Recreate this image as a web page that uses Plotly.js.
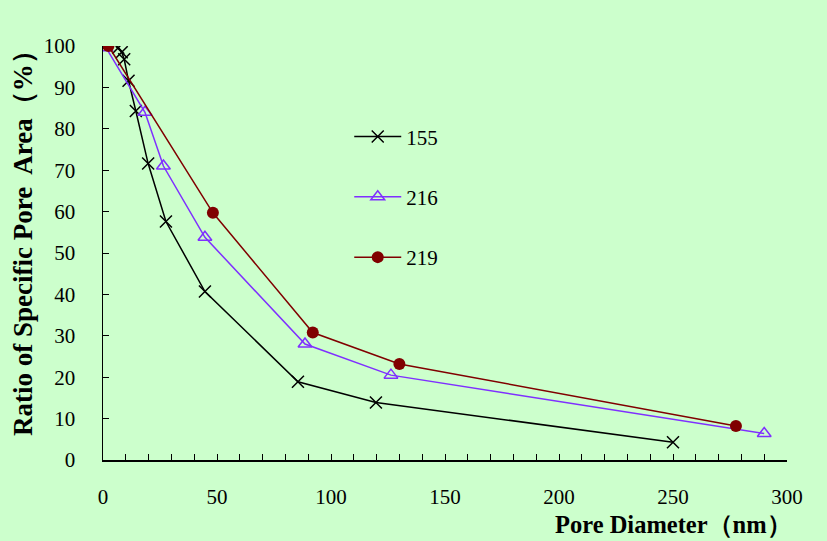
<!DOCTYPE html>
<html>
<head>
<meta charset="utf-8">
<script src="https://cdn.plot.ly/plotly-3.0.1.min.js"></script>
<style>html,body{margin:0;padding:0;background:#CCFFCC;}#chart{width:827px;height:541px;}</style>
</head>
<body>
<div id="chart"></div>
<script>
const x155 = [6.7, 8.2, 9.3, 11.2, 14.4, 19.8, 27.6, 44.7, 85.5, 119.7, 250];
const y155 = [99.6, 98.5, 96.8, 91.6, 84.3, 71.6, 57.6, 40.7, 18.9, 13.9, 4.3];
const x216 = [1.3, 18.4, 26.5, 44.7, 88.6, 126.3, 290];
const y216 = [99.6, 84.0, 71.0, 53.8, 28.0, 20.5, 6.4];
const x219 = [2.4, 48.2, 92.0, 130.0, 277.6];
const y219 = [100, 59.7, 30.8, 23.2, 8.2];
const names = ['155', '216', '219'];

const serif = '"Liberation Serif"';
const traces = [
  {x: x155, y: y155, name: names[0], legendgroup: 'a', mode: 'lines+markers', type: 'scatter',
   line: {color: '#000000', width: 1.5},
   marker: {symbol: 'x-thin-open', size: 12, color: '#000000', line: {color: '#000000', width: 1.5}}},
  {x: x216, y: y216, name: names[1], legendgroup: 'b', mode: 'lines+markers', type: 'scatter',
   line: {color: '#7F2FFF', width: 1.5},
   marker: {symbol: 'triangle-up-open', size: 12, color: '#7F2FFF', line: {color: '#7F2FFF', width: 1.5}}},
  {x: x219, y: y219, name: names[2], legendgroup: 'c', mode: 'lines+markers', type: 'scatter',
   line: {color: '#800000', width: 1.5},
   marker: {symbol: 'circle', size: 12, color: '#800000'}}
];

const layout = {
  width: 827, height: 541,
  paper_bgcolor: '#CCFFCC', plot_bgcolor: '#CCFFCC',
  margin: {l: 103, r: 40, t: 46, b: 81},
  font: {family: serif, size: 20, color: '#000000'},
  showlegend: true,
  legend: {x: 0.36, y: 0.83, xanchor: 'left', yanchor: 'top', bgcolor: 'rgba(0,0,0,0)',
           font: {family: serif, size: 21, color: '#000'}, tracegroupgap: 30, itemwidth: 47},
  xaxis: {range: [0, 300], dtick: 50, tick0: 0, ticks: 'inside', ticklen: 6, tickcolor: '#000',
          showline: true, linecolor: '#000', linewidth: 1.5, showgrid: false, zeroline: false,
          ticklabelstandoff: 17, tickfont: {family: serif, size: 21, color: '#000'},
          minor: {dtick: 10, ticks: 'inside', ticklen: 6, tickcolor: '#000', showgrid: false}},
  yaxis: {range: [0, 100], dtick: 10, tick0: 0, ticks: 'inside', ticklen: 6, tickcolor: '#000',
          showline: true, linecolor: '#000', linewidth: 1.5, showgrid: false, zeroline: false,
          ticklabelstandoff: 22, tickfont: {family: serif, size: 21, color: '#000'}},
  annotations: [
    {text: '<b>Pore Diameter（nm）</b>', xref: 'paper', yref: 'paper', x: 1.01, y: -0.155,
     xanchor: 'right', yanchor: 'middle', showarrow: false, font: {family: serif, size: 24.5, color: '#000'}},
    {text: '<b>Ratio of Specific Pore  Area（%）</b>', xref: 'paper', yref: 'paper', x: -0.117, y: 0.541,
     xanchor: 'center', yanchor: 'middle', textangle: -90, showarrow: false, font: {family: serif, size: 27, color: '#000'}}
  ]
};

Plotly.newPlot('chart', traces, layout, {displayModeBar: false, staticPlot: true});
</script>
</body>
</html>
